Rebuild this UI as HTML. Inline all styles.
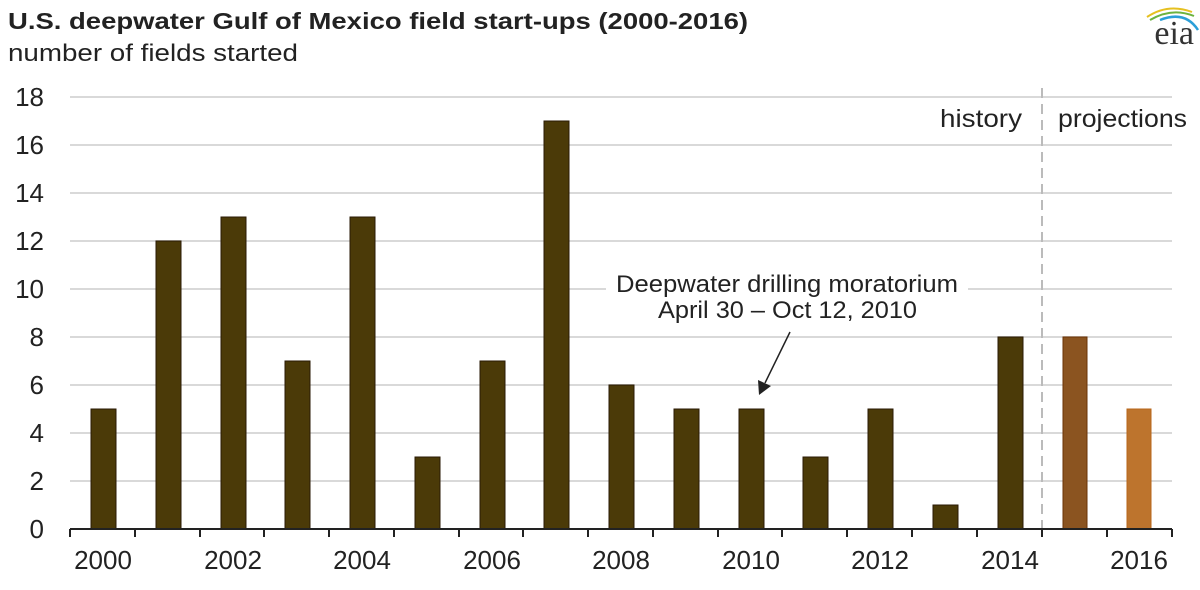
<!DOCTYPE html>
<html><head><style>body{margin:0;background:#fff}</style></head><body>
<svg width="1200" height="585" xmlns="http://www.w3.org/2000/svg" font-family="Liberation Sans, Arial, sans-serif">
<rect width="1200" height="585" fill="#fff"/>
<text x="8" y="29" font-size="23" font-weight="bold" fill="#222" textLength="740" lengthAdjust="spacingAndGlyphs">U.S. deepwater Gulf of Mexico field start-ups  (2000-2016)</text>
<text x="8" y="61" font-size="24" fill="#222" textLength="290" lengthAdjust="spacingAndGlyphs">number  of fields  started</text>
<g stroke="#d9d9d9" stroke-width="2">
<line x1="70" x2="1172" y1="97" y2="97"/><line x1="70" x2="1172" y1="145" y2="145"/>
<line x1="70" x2="1172" y1="193" y2="193"/><line x1="70" x2="1172" y1="241" y2="241"/>
<line x1="70" x2="1172" y1="289" y2="289"/><line x1="70" x2="1172" y1="337" y2="337"/>
<line x1="70" x2="1172" y1="385" y2="385"/><line x1="70" x2="1172" y1="433" y2="433"/>
<line x1="70" x2="1172" y1="481" y2="481"/>
</g>
<g font-size="26" fill="#222" text-anchor="end">
<text x="44" y="106">18</text><text x="44" y="154">16</text><text x="44" y="202">14</text>
<text x="44" y="250">12</text><text x="44" y="298">10</text><text x="44" y="346">8</text>
<text x="44" y="394">6</text><text x="44" y="442">4</text><text x="44" y="490">2</text><text x="44" y="538">0</text>
</g>
<line x1="1042" x2="1042" y1="88" y2="529" stroke="#bbb" stroke-width="2" stroke-dasharray="10,6"/>
<g fill="#4b3a08" stroke="#2a1a05" stroke-width="1">
<rect x="91" y="409" width="25" height="120"/>
<rect x="156" y="241" width="25" height="288"/>
<rect x="221" y="217" width="25" height="312"/>
<rect x="285" y="361" width="25" height="168"/>
<rect x="350" y="217" width="25" height="312"/>
<rect x="415" y="457" width="25" height="72"/>
<rect x="480" y="361" width="25" height="168"/>
<rect x="544" y="121" width="25" height="408"/>
<rect x="609" y="385" width="25" height="144"/>
<rect x="674" y="409" width="25" height="120"/>
<rect x="739" y="409" width="25" height="120"/>
<rect x="803" y="457" width="25" height="72"/>
<rect x="868" y="409" width="25" height="120"/>
<rect x="933" y="505" width="25" height="24"/>
<rect x="998" y="337" width="25" height="192"/>
</g>
<rect x="1063" y="337" width="24" height="192" fill="#8b5420" stroke="#6b3306"/>
<rect x="1127" y="409" width="24" height="120" fill="#bd742d" stroke="#b8661a"/>
<g stroke="#222" stroke-width="2">
<line x1="70" x2="1172" y1="529" y2="529"/>
<line x1="70" x2="70" y1="529" y2="537"/><line x1="135" x2="135" y1="529" y2="537"/>
<line x1="200" x2="200" y1="529" y2="537"/><line x1="264" x2="264" y1="529" y2="537"/>
<line x1="329" x2="329" y1="529" y2="537"/><line x1="394" x2="394" y1="529" y2="537"/>
<line x1="459" x2="459" y1="529" y2="537"/><line x1="523" x2="523" y1="529" y2="537"/>
<line x1="588" x2="588" y1="529" y2="537"/><line x1="653" x2="653" y1="529" y2="537"/>
<line x1="718" x2="718" y1="529" y2="537"/><line x1="782" x2="782" y1="529" y2="537"/>
<line x1="847" x2="847" y1="529" y2="537"/><line x1="912" x2="912" y1="529" y2="537"/>
<line x1="977" x2="977" y1="529" y2="537"/><line x1="1042" x2="1042" y1="529" y2="537"/>
<line x1="1107" x2="1107" y1="529" y2="537"/><line x1="1172" x2="1172" y1="529" y2="537"/>
</g>
<g font-size="26" fill="#222" text-anchor="middle">
<text x="103" y="569">2000</text><text x="233" y="569">2002</text><text x="362" y="569">2004</text>
<text x="492" y="569">2006</text><text x="621" y="569">2008</text><text x="751" y="569">2010</text>
<text x="880" y="569">2012</text><text x="1010" y="569">2014</text><text x="1139" y="569">2016</text>
</g>
<text x="940" y="127" font-size="25" fill="#222" textLength="82" lengthAdjust="spacingAndGlyphs">history</text>
<text x="1058" y="127" font-size="25" fill="#222" textLength="129" lengthAdjust="spacingAndGlyphs">projections</text>
<rect x="606" y="270" width="362" height="28" fill="#fff"/>
<text x="616" y="292" font-size="24" fill="#222" textLength="342" lengthAdjust="spacingAndGlyphs">Deepwater drilling moratorium</text>
<text x="658" y="318" font-size="24" fill="#222" textLength="259" lengthAdjust="spacingAndGlyphs">April 30 – Oct 12, 2010</text>
<line x1="790" x2="765" y1="332" y2="383" stroke="#222" stroke-width="1.5"/>
<polygon points="759,395 758,380 771,386" fill="#222"/>
<text x="1194" y="44" font-size="34" font-family="Liberation Serif, serif" fill="#333" text-anchor="end">eia</text>
<path d="M1147,17 Q1168,3 1192,12" fill="none" stroke="#e6c020" stroke-width="2"/>
<path d="M1150,20 Q1172,7 1194,16" fill="none" stroke="#6cb33f" stroke-width="2"/>
<path d="M1160,20 Q1185,10 1198,30" fill="none" stroke="#2b9fd8" stroke-width="2.5"/>
</svg>
</body></html>
